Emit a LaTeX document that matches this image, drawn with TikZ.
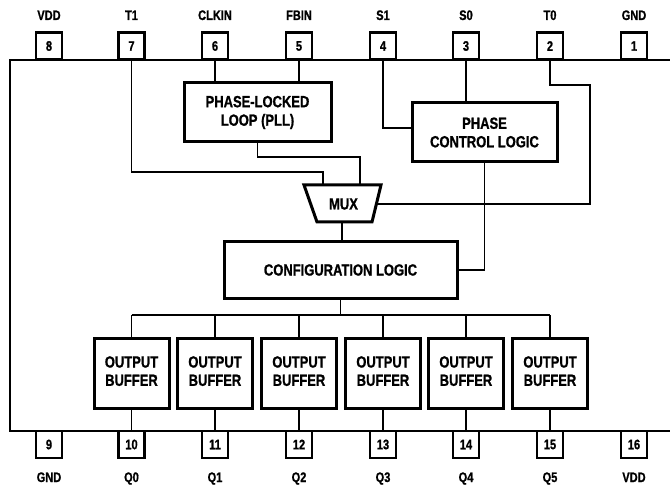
\documentclass[tikz,border=0pt]{standalone}
\usepackage{fontspec}
\setmainfont{Liberation Sans}[FakeStretch=0.8, BoldFeatures={FakeBold=1}]
\begin{document}
\begin{tikzpicture}[x=1bp,y=-1bp,
  wire/.style={line width=1.3bp},
  blkfont/.style={font=\bfseries\fontsize{16.2bp}{18.5bp}\selectfont},
  blk/.style={draw, line width=3bp, align=center, inner sep=0pt, blkfont},
  pinfont/.style={font=\bfseries\fontsize{13.8bp}{16bp}\selectfont},
  pinbox/.style={draw, line width=2.2bp, minimum width=26bp, minimum height=27bp,
    inner sep=0pt, fill=white, pinfont},
  pinlab/.style={inner sep=0pt, text height=10bp, text depth=0pt, pinfont}]
\useasboundingbox (0,0) rectangle (670,485);
% chip body
\draw[line width=2.2bp] (10,60) rectangle (676,431);
% pins
\foreach \n/\x/\lab in {8/49/VDD,7/131.5/T1,6/215/CLKIN,5/299/FBIN,4/383/S1,3/466/S0,2/550/T0,1/634/GND}{
  \node[pinbox] (p\n) at (\x,46) {\n};
  \node[pinlab] (l\n) at (\x,15) {\lab};
}
\foreach \n/\x/\lab in {9/49/GND,10/131.5/Q0,11/215/Q1,12/299/Q2,13/383/Q3,14/466/Q4,15/550/Q5,16/634/VDD}{
  \node[pinbox] (p\n) at (\x,444.5) {\n};
  \node[pinlab] (l\n) at (\x,477) {\lab};
}
% blocks
\node[blk, minimum width=147bp, minimum height=59bp] (pll) at (257.5,112.5) {PHASE-LOCKED\\LOOP (PLL)};
\node[blk, minimum width=145bp, minimum height=59bp] (pcl) at (484.5,132.5) {PHASE\\CONTROL LOGIC};
\node[blk, minimum width=233bp, minimum height=56bp] (cfg) at (340.5,270) {CONFIGURATION LOGIC};
\foreach \n/\x in {10/131.5,11/215,12/299,13/383,14/466,15/550}{
  \node[blk, minimum width=75bp, minimum height=70bp] (buf\n) at (\x,373) {\raisebox{-2bp}{\begin{tabular}{@{}c@{}}OUTPUT\\[-0.2bp]BUFFER\end{tabular}}};
}
% MUX
\draw[line width=3bp, line join=miter] (304,185) -- (381,185) -- (372,222) -- (317,222) -- cycle;
\node[inner sep=0pt, blkfont] (mux) at (343.5,204) {MUX};
\coordinate (muxT1) at (323,185);
\coordinate (muxPLL) at (360,185);
\coordinate (muxR) at (376.4,204);
\coordinate (muxB) at (342,222);
\coordinate (s1in) at (412,128);
\coordinate (bus) at (0,315);
% wires
\draw[wire] (p7.south) -- (131.5,172) -- (323,172) -- (muxT1);
\draw[wire] (p6.south) -- (p6.south |- pll.north);
\draw[wire] (p5.south) -- (p5.south |- pll.north);
\draw[wire] (p3.south) -- (p3.south |- pcl.north);
\draw[wire] (p4.south) |- (s1in);
\draw[wire] (p2.south) -- (550,85) -- (590,85) -- (590,204) -- (muxR);
\draw[wire] (pll.south) -- (257.5,157) -- (360,157) -- (muxPLL);
\draw[wire] (muxB) -- (muxB |- cfg.north);
\draw[wire] (pcl.south) |- (cfg.east);
\draw[wire] (cfg.south) -- (cfg.south |- bus);
\draw[wire] (buf10.north |- bus) -- (buf15.north |- bus);
\foreach \n in {10,...,15}{
  \draw[wire] (buf\n.north) -- (buf\n.north |- bus);
  \draw[wire] (buf\n.south) -- (p\n.north);
}
\end{tikzpicture}
\end{document}
